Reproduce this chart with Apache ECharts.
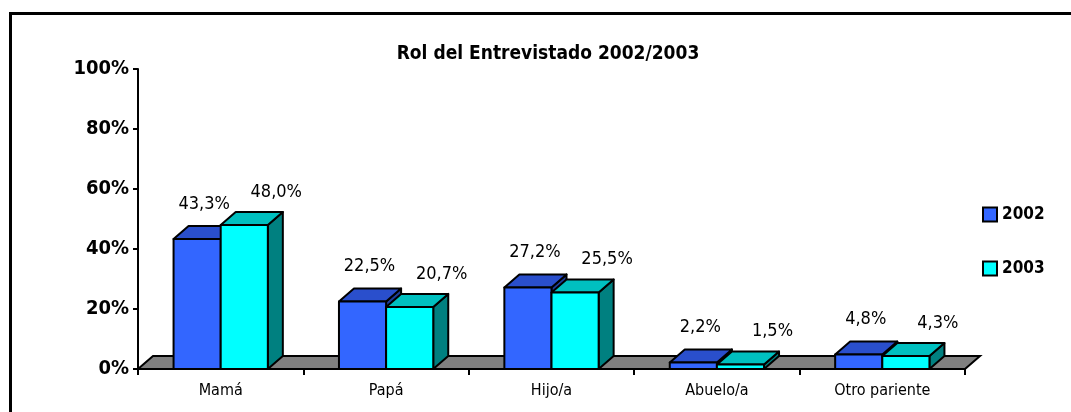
<!DOCTYPE html>
<html>
<head>
<meta charset="utf-8">
<script src="https://cdn.jsdelivr.net/npm/echarts@6/dist/echarts.min.js"></script>
<style>
html,body{margin:0;padding:0;background:#fff;}
#c{width:1071px;height:412px;}
</style>
</head>
<body>
<div id="c"></div>
<script>
const categories = ['Mamá', 'Papá', 'Hijo/a', 'Abuelo/a', 'Otro pariente'];
const values2002 = [43.3, 22.5, 27.2, 2.2, 4.8];
const values2003 = [48.0, 20.7, 25.5, 1.5, 4.3];
const seriesNames = ['2002', '2003'];
const titleText = 'Rol del Entrevistado 2002/2003';

const FONT = "'DejaVu Sans Condensed','Liberation Sans',sans-serif";
const DX = 15, DY = 13;
const BAR_RATIO = 0.285;
const colors = [
  {front: '#3366FF', top: '#2A4FCC', side: '#1F3D99'},
  {front: '#00FFFF', top: '#00C0C0', side: '#008080'}
];
const labelOff = [{x: 7, y: 35}, {x: 32, y: 33}];

function fmt(v) { return v.toFixed(1).replace('.', ',') + '%'; }

function makeRender(idx) {
  const c = colors[idx];
  return function (params, api) {
    const ci = api.value(0), v = api.value(1);
    const base = api.coord([ci, 0]);
    const top = api.coord([ci, v]);
    const bw = api.size([1, 0])[0] * BAR_RATIO;
    const x0 = idx === 0 ? base[0] - bw : base[0];
    const x1 = x0 + bw;
    const yb = base[1], yt = top[1];
    const st = {stroke: '#000', lineWidth: 2, lineJoin: 'round'};
    return {
      type: 'group',
      children: [
        {type: 'polygon', shape: {points: [[x1, yt], [x1 + DX, yt - DY], [x1 + DX, yb - DY], [x1, yb]]},
          style: Object.assign({fill: c.side}, st)},
        {type: 'polygon', shape: {points: [[x0, yt], [x0 + DX, yt - DY], [x1 + DX, yt - DY], [x1, yt]]},
          style: Object.assign({fill: c.top}, st)},
        {type: 'rect', shape: {x: x0, y: yt, width: bw, height: yb - yt},
          style: Object.assign({fill: c.front}, st)},
        {type: 'text', x: (x0 + x1) / 2 + labelOff[idx].x, y: yt - labelOff[idx].y,
          style: {text: fmt(v), fill: '#000', font: '18px ' + FONT, align: 'center', verticalAlign: 'middle'}}
      ]
    };
  };
}

function floorRender(params, api) {
  const cs = params.coordSys;
  const yb = cs.y + cs.height;
  return {
    type: 'polygon',
    shape: {points: [[cs.x, yb], [cs.x + DX, yb - DY], [cs.x + cs.width + DX, yb - DY], [cs.x + cs.width, yb]]},
    style: {fill: '#808080', stroke: '#000', lineWidth: 2}
  };
}

const chart = echarts.init(document.getElementById('c'), null, {renderer: 'canvas'});
chart.setOption({
  backgroundColor: '#fff',
  animation: false,
  title: {
    text: titleText, left: 548, top: 45, textAlign: 'center', padding: 0,
    textStyle: {fontFamily: FONT, fontSize: 19, fontWeight: 'bold', color: '#000'}
  },
  graphic: [{
    type: 'rect', shape: {x: 10.5, y: 13.5, width: 1100, height: 450},
    style: {fill: 'none', stroke: '#000', lineWidth: 3}, silent: true, z: 100
  }],
  legend: {
    orient: 'vertical', left: 982, top: 206, itemGap: 37, padding: 0,
    itemWidth: 14, itemHeight: 14,
    textStyle: {fontFamily: FONT, fontSize: 17, fontWeight: 'bold', color: '#000'},
    data: [
      {name: seriesNames[0], icon: 'rect', itemStyle: {color: colors[0].front, borderColor: '#000', borderWidth: 2}},
      {name: seriesNames[1], icon: 'rect', itemStyle: {color: colors[1].front, borderColor: '#000', borderWidth: 2}}
    ]
  },
  grid: {left: 138, right: 106, top: 69, bottom: 43},
  xAxis: {
    type: 'category', data: categories,
    axisLine: {lineStyle: {color: '#000', width: 2}},
    axisTick: {show: true, length: 6, lineStyle: {color: '#000', width: 2}},
    axisLabel: {fontFamily: FONT, fontSize: 16, color: '#000', margin: 14}
  },
  yAxis: {
    type: 'value', min: 0, max: 100, interval: 20,
    axisLine: {show: true, lineStyle: {color: '#000', width: 2}},
    axisTick: {show: true, length: 5, lineStyle: {color: '#000', width: 2}},
    splitLine: {show: false},
    axisLabel: {formatter: '{value}%', fontFamily: FONT, fontSize: 20, fontWeight: 'bold', color: '#000', margin: 9}
  },
  series: [
    {type: 'custom', name: 'floor', renderItem: floorRender, data: [[0, 0]], silent: true, z: 1},
    {type: 'custom', name: seriesNames[0], renderItem: makeRender(0),
      itemStyle: {color: colors[0].front},
      data: values2002.map((v, i) => [i, v]), encode: {x: 0, y: 1}, z: 3},
    {type: 'custom', name: seriesNames[1], renderItem: makeRender(1),
      itemStyle: {color: colors[1].front},
      data: values2003.map((v, i) => [i, v]), encode: {x: 0, y: 1}, z: 4}
  ]
});
</script>
</body>
</html>
